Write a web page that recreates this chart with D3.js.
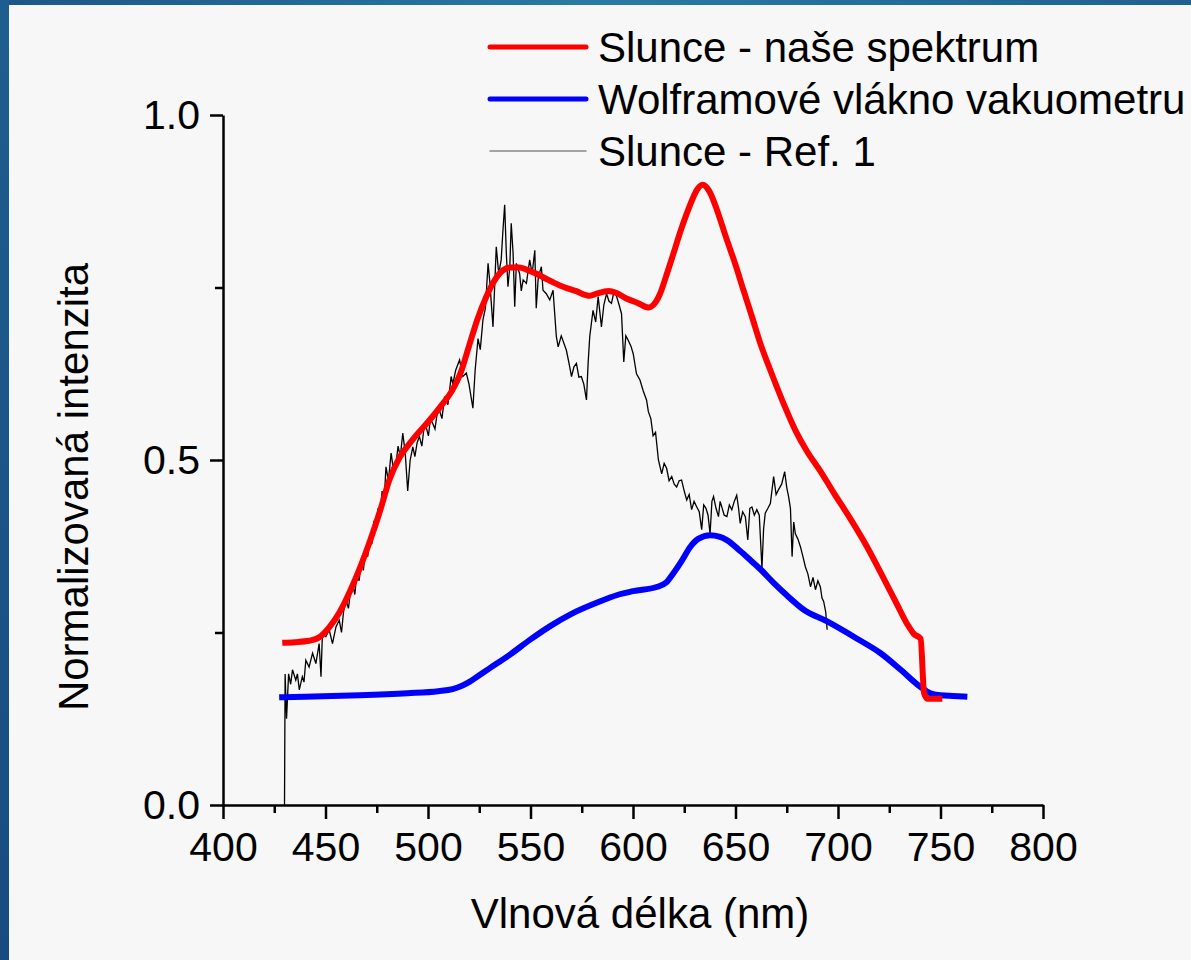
<!DOCTYPE html>
<html>
<head>
<meta charset="utf-8">
<script src="https://cdn.jsdelivr.net/npm/d3@7"></script>
<style>
  body { margin: 0; background: #f7f7f7; }
  svg { display: block; font-family: "Liberation Sans", Arial, sans-serif; }
</style>
</head>
<body>
<script>
var width = 1191;
var height = 960;

// x ticks and y ticks
var xMajor = [400, 450, 500, 550, 600, 650, 700, 750, 800];
var xMinor = [425, 475, 525, 575, 625, 675, 725, 775];
var yMajor = [0, 0.5, 1.0];
var yMinor = [0.25, 0.75];

var seriesNames = ["Slunce - naše spektrum", "Wolframové vlákno vakuometru", "Slunce - Ref. 1"];

// Slunce - naše spektrum (nm, intensity)
var sunOurs = [
  [428.9, 0.235], [435, 0.236], [442, 0.238], [447, 0.243], [452, 0.258], [457, 0.28],
  [462, 0.31], [467, 0.345], [472, 0.385], [477, 0.43], [481, 0.47], [486, 0.503],
  [490, 0.52], [494, 0.535], [500, 0.555], [506, 0.577], [512, 0.602], [516, 0.627],
  [520, 0.665], [524, 0.703], [528.5, 0.737], [532, 0.758], [536.6, 0.775], [540, 0.779],
  [544.7, 0.779], [548, 0.776], [552.9, 0.770], [558, 0.762], [564.3, 0.753], [572, 0.745],
  [579, 0.738], [582.2, 0.741], [587.9, 0.745], [592, 0.742], [596.8, 0.734], [602, 0.728],
  [607.5, 0.721], [610, 0.725], [613.2, 0.741], [616, 0.765], [619.7, 0.799], [623, 0.83],
  [626.2, 0.857], [629, 0.878], [631.1, 0.891], [634, 0.899], [636, 0.895], [638, 0.885],
  [641, 0.862], [645.8, 0.819], [650, 0.783], [653.9, 0.746], [658, 0.708], [662.1, 0.669],
  [667, 0.63], [673, 0.585], [679.2, 0.543], [685, 0.512], [691.4, 0.484], [698, 0.452],
  [706, 0.415], [714, 0.375], [722, 0.33], [728.9, 0.29], [733.8, 0.262], [737, 0.248],
  [740.3, 0.241], [742, 0.162], [743.6, 0.154], [750.9, 0.154]
];

// Wolframové vlákno vakuometru
var tungsten = [
  [427.4, 0.156], [440, 0.157], [466.5, 0.159], [490, 0.162], [505, 0.165], [512, 0.168],
  [516, 0.172], [520, 0.178], [525, 0.188], [530, 0.198], [540, 0.218], [550, 0.24],
  [560, 0.26], [570, 0.277], [583.9, 0.295], [592, 0.304], [600.1, 0.31], [611.5, 0.316],
  [616, 0.322], [619.7, 0.336], [624, 0.355], [627.9, 0.374], [632, 0.386], [637.6, 0.391],
  [642, 0.389], [645.8, 0.384], [652.3, 0.368], [657.2, 0.355], [662, 0.342], [668.6, 0.322],
  [675, 0.304], [683.3, 0.283], [694.7, 0.266], [709.3, 0.241], [720.8, 0.220], [730.6, 0.196],
  [740.3, 0.171], [745, 0.162], [750.1, 0.159], [756, 0.158], [763.1, 0.157]
];

// Slunce - Ref. 1
var sunRef = [
  [430.0, 0.0], [430.3, 0.19], [431.0, 0.125], [432.0, 0.19], [433.0, 0.175], [433.9, 0.196],
  [435.5, 0.181], [436.3, 0.19], [437.2, 0.167], [438.7, 0.186], [439.5, 0.178], [440.4, 0.21],
  [442.0, 0.2], [443.7, 0.22], [445.3, 0.205], [446.9, 0.234], [447.8, 0.186], [448.5, 0.249],
  [450.2, 0.244], [451.8, 0.254], [453.4, 0.234], [455.1, 0.258], [456.7, 0.268], [457.8, 0.25],
  [458.8, 0.28], [460.0, 0.297], [461.2, 0.285], [462.2, 0.31], [463.2, 0.321], [464.3, 0.305],
  [465.3, 0.335], [466.4, 0.325], [467.4, 0.35], [468.5, 0.34], [469.5, 0.372], [470.6, 0.36],
  [471.6, 0.39], [472.6, 0.378], [473.6, 0.412], [474.6, 0.4], [475.6, 0.43], [476.6, 0.418],
  [477.6, 0.455], [478.6, 0.44], [479.5, 0.49], [480.7, 0.47], [482.0, 0.51], [483.2, 0.485],
  [484.4, 0.495], [485.4, 0.52], [486.5, 0.505], [487.7, 0.539], [488.9, 0.51], [490.1, 0.455],
  [491.3, 0.5], [492.6, 0.519], [493.6, 0.505], [494.7, 0.525], [495.8, 0.534], [497.0, 0.52],
  [498.0, 0.545], [499.1, 0.548], [500.2, 0.535], [501.2, 0.56], [502.3, 0.553], [503.4, 0.545],
  [504.5, 0.568], [505.6, 0.572], [506.8, 0.56], [508.1, 0.592], [509.7, 0.58], [511.3, 0.621],
  [512.1, 0.61], [513.5, 0.63], [515.4, 0.645], [517.0, 0.621], [518.7, 0.626], [520.0, 0.61],
  [521.9, 0.575], [523.0, 0.63], [524.4, 0.676], [525.5, 0.66], [526.8, 0.703], [528.0, 0.72],
  [529.3, 0.785], [530.1, 0.76], [531.7, 0.693], [532.5, 0.75], [533.3, 0.809], [534.5, 0.77],
  [535.7, 0.79], [536.5, 0.83], [537.4, 0.870], [538.2, 0.8], [539.0, 0.751], [539.9, 0.78],
  [540.6, 0.843], [541.5, 0.8], [542.3, 0.722], [543.1, 0.785], [544.7, 0.77], [545.5, 0.745],
  [546.4, 0.761], [548.0, 0.756], [549.6, 0.79], [550.8, 0.77], [552.1, 0.804], [552.8, 0.72],
  [553.8, 0.765], [555.3, 0.78], [556.1, 0.746], [557.7, 0.741], [559.4, 0.732], [561.0, 0.746],
  [562.6, 0.679], [563.5, 0.664], [565.0, 0.68], [567.5, 0.659], [568.8, 0.64], [570.0, 0.621],
  [571.2, 0.635], [572.4, 0.64], [573.6, 0.62], [574.8, 0.621], [576.0, 0.61], [577.3, 0.587],
  [578.1, 0.64], [578.9, 0.679], [580.5, 0.717], [581.8, 0.7], [583.0, 0.737], [584.6, 0.693],
  [585.8, 0.725], [587.1, 0.741], [588.3, 0.73], [589.5, 0.727], [590.8, 0.745], [592.0, 0.737],
  [593.2, 0.725], [594.4, 0.712], [595.5, 0.642], [596.5, 0.68], [597.6, 0.674], [599.0, 0.665],
  [600.1, 0.654], [601.7, 0.625], [603.4, 0.616], [605.0, 0.6], [606.6, 0.587], [607.5, 0.57],
  [608.7, 0.56], [609.8, 0.535], [611.0, 0.54], [612.4, 0.5], [614.0, 0.48], [615.2, 0.495],
  [616.4, 0.488], [617.6, 0.47], [618.9, 0.476], [620.1, 0.465], [621.3, 0.461], [622.5, 0.47],
  [623.7, 0.471], [625.0, 0.455], [626.2, 0.442], [627.4, 0.45], [628.6, 0.428], [629.8, 0.44],
  [631.1, 0.432], [632.3, 0.425], [633.5, 0.399], [634.5, 0.435], [635.6, 0.43], [636.6, 0.42],
  [637.6, 0.393], [638.5, 0.44], [639.3, 0.447], [640.5, 0.43], [641.7, 0.418], [642.5, 0.44],
  [643.3, 0.432], [644.5, 0.42], [645.8, 0.418], [647.0, 0.435], [648.2, 0.428], [649.4, 0.44],
  [650.6, 0.449], [651.5, 0.43], [652.3, 0.408], [653.5, 0.425], [654.8, 0.418], [656.0, 0.384],
  [657.0, 0.43], [658.0, 0.432], [659.2, 0.42], [660.4, 0.428], [661.6, 0.42], [662.9, 0.343],
  [663.7, 0.4], [664.5, 0.423], [665.8, 0.43], [667.0, 0.437], [668.6, 0.476], [669.8, 0.45],
  [671.0, 0.457], [672.5, 0.465], [674.0, 0.483], [675.0, 0.46], [675.9, 0.447], [676.8, 0.43],
  [677.6, 0.36], [678.4, 0.41], [679.2, 0.393], [680.5, 0.385], [681.7, 0.374], [682.9, 0.36],
  [684.1, 0.345], [685.3, 0.335], [686.6, 0.316], [687.8, 0.33], [689.0, 0.312], [690.2, 0.325],
  [691.4, 0.316], [692.2, 0.3], [693.0, 0.295], [694.0, 0.28], [694.7, 0.254]
];

var svg = d3.select("body").append("svg")
  .attr("width", width)
  .attr("height", height);

// slide frame: blue gradient strips at top and left
var defs = svg.append("defs");
var gTop = defs.append("linearGradient").attr("id", "gTop")
  .attr("x1", "0%").attr("x2", "100%").attr("y1", "0%").attr("y2", "0%");
gTop.append("stop").attr("offset", "0%").attr("stop-color", "#1c5688");
gTop.append("stop").attr("offset", "50%").attr("stop-color", "#2a7ba3");
gTop.append("stop").attr("offset", "100%").attr("stop-color", "#1f608f");
var gLeft = defs.append("linearGradient").attr("id", "gLeft")
  .attr("x1", "0%").attr("x2", "0%").attr("y1", "0%").attr("y2", "100%");
gLeft.append("stop").attr("offset", "0%").attr("stop-color", "#1e5e8e");
gLeft.append("stop").attr("offset", "100%").attr("stop-color", "#184c7e");

svg.append("rect").attr("width", width).attr("height", height).attr("fill", "#f7f7f7");
svg.append("rect").attr("x", 0).attr("y", 0).attr("width", width).attr("height", 5).attr("fill", "url(#gTop)");
svg.append("rect").attr("x", 0).attr("y", 0).attr("width", 9).attr("height", height).attr("fill", "url(#gLeft)");

var xScale = d3.scaleLinear().domain([400, 800]).range([223, 1043]);
var yScale = d3.scaleLinear().domain([0, 1]).range([805, 115]);

// axes
svg.append("g")
  .attr("transform", "translate(0," + yScale(0) + ")")
  .call(d3.axisBottom(xScale).tickValues(xMajor).tickSize(14).tickSizeOuter(0).tickPadding(13));
svg.append("g")
  .attr("transform", "translate(0," + yScale(0) + ")")
  .call(d3.axisBottom(xScale).tickValues(xMinor).tickSize(8).tickSizeOuter(0).tickFormat(""))
  .select(".domain").remove();

svg.append("g")
  .attr("transform", "translate(" + xScale(400) + ",0)")
  .call(d3.axisLeft(yScale).tickValues(yMajor).tickSize(13).tickSizeOuter(0).tickPadding(10)
    .tickFormat(d3.format(".1f")));
svg.append("g")
  .attr("transform", "translate(" + xScale(400) + ",0)")
  .call(d3.axisLeft(yScale).tickValues(yMinor).tickSize(8).tickSizeOuter(0).tickFormat(""))
  .select(".domain").remove();

svg.selectAll(".domain, .tick line")
  .attr("stroke", "#000")
  .attr("stroke-width", 2.5);
svg.selectAll(".tick text")
  .attr("fill", "#000")
  .style("font-size", "41px")
  .style("font-family", "'Liberation Sans', Arial, sans-serif");

// axis titles
svg.append("text")
  .attr("x", 640)
  .attr("y", 928)
  .attr("text-anchor", "middle")
  .style("font-size", "42px")
  .text("Vlnová délka (nm)");

svg.append("text")
  .attr("transform", "translate(88,487) rotate(-90)")
  .attr("text-anchor", "middle")
  .style("font-size", "42px")
  .text("Normalizovaná intenzita");

// data lines
var line = d3.line()
  .x(function(d) { return xScale(d[0]); })
  .y(function(d) { return yScale(d[1]); });

var smooth = d3.line()
  .curve(d3.curveMonotoneX)
  .x(function(d) { return xScale(d[0]); })
  .y(function(d) { return yScale(d[1]); });

svg.append("path")
  .datum(sunRef)
  .attr("d", line)
  .attr("fill", "none")
  .attr("stroke", "#000")
  .attr("stroke-width", 1.3);

svg.append("path")
  .datum(tungsten)
  .attr("d", smooth)
  .attr("fill", "none")
  .attr("stroke", "#0000ff")
  .attr("stroke-width", 6)
  .attr("stroke-linejoin", "round");

svg.append("path")
  .datum(sunOurs)
  .attr("d", smooth)
  .attr("fill", "none")
  .attr("stroke", "#ff0000")
  .attr("stroke-width", 6)
  .attr("stroke-linejoin", "round");

// legend
var legendColors = ["#ff0000", "#0000ff", "#888"];
var legendWidths = [5, 5, 1.5];
var legend = svg.selectAll(".legend")
  .data(seriesNames)
  .enter().append("g")
  .attr("class", "legend")
  .attr("transform", function(d, i) {
    return "translate(0," + (47 + i * 52) + ")";
  });

legend.append("line")
  .attr("x1", 490)
  .attr("x2", 586)
  .attr("y1", 0)
  .attr("y2", 0)
  .attr("stroke", function(d, i) { return legendColors[i]; })
  .attr("stroke-width", function(d, i) { return legendWidths[i]; })
  .attr("stroke-linecap", "round");

legend.append("text")
  .attr("x", 598)
  .attr("y", 15)
  .style("font-size", "42px")
  .text(function(d) { return d; });
</script>
</body>
</html>
